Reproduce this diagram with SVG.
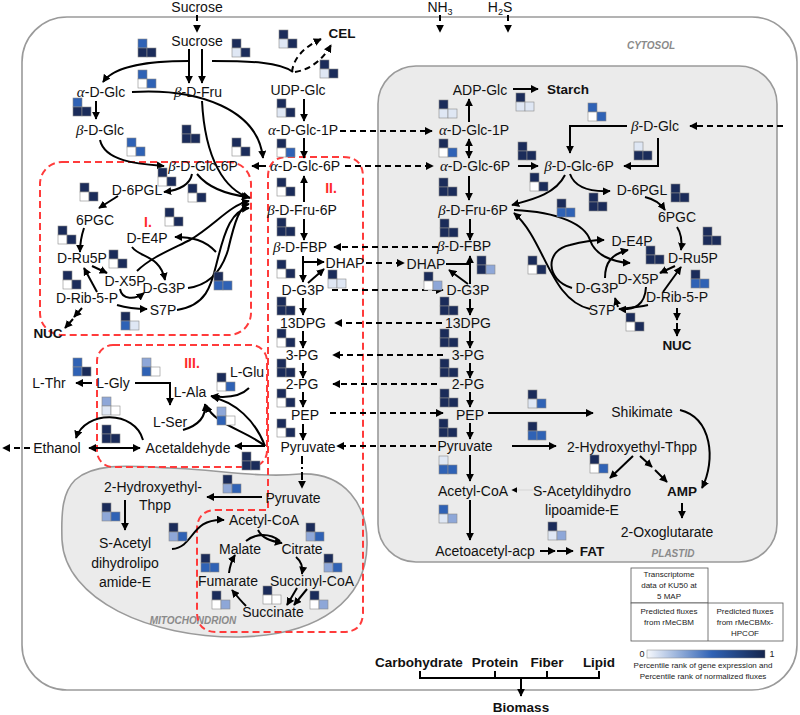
<svg xmlns="http://www.w3.org/2000/svg" width="800" height="715" viewBox="0 0 800 715">
<style>
text{font-family:"Liberation Sans",Arial,sans-serif;font-size:14px;fill:#111;text-anchor:middle}
.g{font-family:"Liberation Serif",serif;font-style:italic;font-size:15px}
.b{font-weight:bold;font-size:13.5px}
.lab{font-size:10px;font-style:italic;font-weight:bold;fill:#8a8a8a}
.red{fill:#ff2a2a;font-weight:bold;font-size:14px}
.lg{font-size:8px;fill:#222}
.c path{fill:none;stroke:#000;stroke-width:2}
.ar{marker-end:url(#a)}
.bi{marker-start:url(#a);marker-end:url(#a)}
.dd{stroke-dasharray:6 4}
.dt{stroke-dasharray:8 3 2 3}
.rb{fill:none;stroke:#ff3b3b;stroke-width:2;stroke-dasharray:7 4}
.gl rect{stroke:#8a8a8a;stroke-width:0.6}
.D{fill:#1b2c5a}.M{fill:#2f62b5}.L{fill:#8ea7d8}.P{fill:#dfe7f4}.W{fill:#fff}
</style>
<defs>
<marker id="a" viewBox="0 0 10 10" refX="9" refY="5" markerWidth="4" markerHeight="4" orient="auto-start-reverse"><path d="M0,0 L10,5 L0,10 z" fill="#000"/></marker>
<linearGradient id="grad" x1="0" x2="1" y1="0" y2="0"><stop offset="0" stop-color="#f7f9fd"/><stop offset="0.55" stop-color="#2f62b5"/><stop offset="1" stop-color="#15254d"/></linearGradient>
</defs>
<rect width="800" height="715" fill="#fff"/>
<g id="compartments">
<rect x="22" y="17" width="775" height="673" rx="45" fill="#fff" stroke="#9a9a9a" stroke-width="1.6"/>
<rect x="378" y="66" width="399" height="496" rx="38" fill="#ebebeb" stroke="#9a9a9a" stroke-width="1.6"/>
<path d="M75,480 C95,462 130,466 170,468 C220,470 260,478 300,474 C345,472 368,505 367,545 C366,600 320,635 240,637 C150,638 65,600 62,540 C61,510 63,492 75,480 Z" fill="#ebebeb" stroke="#9a9a9a" stroke-width="1.6"/>
<text class="lab" x="651" y="49">CYTOSOL</text>
<text class="lab" x="673" y="557">PLASTID</text>
<text class="lab" x="193" y="624">MITOCHONDRION</text>
<rect class="rb" x="40" y="162" width="211" height="173" rx="22"/>
<rect class="rb" x="97" y="345" width="170" height="122" rx="16"/>
<path class="rb" d="M288,157 H343 Q363,157 363,177 V612 Q363,632 343,632 H217 Q197,632 197,612 V530 Q197,510 217,510 H268 V177 Q268,157 288,157 Z"/>
<text class="red" x="148" y="227">I.</text>
<text class="red" x="331" y="193">II.</text>
<text class="red" x="192" y="368">III.</text>
</g>
<g id="connectors" class="c">
<path class="ar dd" d="M197,15 V32"/>
<path class="ar dd" d="M440,15 V32"/>
<path class="ar dd" d="M508,15 V32"/>
<path class="ar" d="M189,49 V83"/>
<path class="ar" d="M202,49 V83"/>
<path class="ar" d="M189,61 C150,61 115,65 103,82"/>
<path d="M212,61 C250,61 280,62 293,72"/>
<path class="ar dd" d="M292,72 Q294,52 321,39"/>
<path class="ar dd" d="M295,72 Q318,68 331,45"/>
<path class="ar" d="M96,101 V119"/>
<path class="ar" d="M132,92 C200,88 258,110 263,158"/>
<path class="ar" d="M202,101 C205,160 225,190 250,198"/>
<path class="ar" d="M100,140 C105,162 140,164 164,166"/>
<path class="ar" d="M266,166 H252"/>
<path class="ar" d="M304,99 V121"/>
<path class="ar" d="M304,138 V158"/>
<path class="ar" d="M304,202 V176"/>
<path class="ar dd" d="M340,131 H432"/>
<path class="ar dd" d="M345,166 H433"/>
<path class="ar" d="M304,219 V240"/>
<path class="ar" d="M303,256 V282"/>
<path class="ar" d="M303,262 H324"/>
<path class="ar" d="M308,283 L324,269"/>
<path class="ar dd" d="M438,247 H334"/>
<path class="ar dd" d="M366,263 H404"/>
<path class="ar dd" d="M332,290 H443"/>
<path class="ar" d="M303,298 V315"/>
<path class="ar dd" d="M442,323 H335"/>
<path class="ar" d="M303,331 V348"/>
<path class="ar dd" d="M443,355 H333"/>
<path class="ar" d="M303,363 V378"/>
<path class="ar dd" d="M437,384 H333"/>
<path class="ar" d="M303,392 V407"/>
<path class="ar dd" d="M330,413 H443"/>
<path class="ar" d="M303,424 V440"/>
<path class="ar dd" d="M436,446 H337"/>
<path class="ar dt" d="M302,456 V488"/>
<path class="ar" d="M262,497 H207"/>
<path class="ar" d="M125,500 V530"/>
<path class="ar" d="M172,549 C195,547 190,518 224,520"/>
<path class="ar" d="M258,530 C262,538 270,541 282,543"/>
<path d="M246,541 C256,533 270,533 280,541"/>
<path class="ar" d="M296,557 C302,562 303,568 302,574"/>
<path class="ar" d="M297,588 L287,605"/>
<path class="ar" d="M307,589 L294,605"/>
<path class="ar" d="M246,606 C240,600 236,595 232,590"/>
<path class="ar" d="M229,573 C230,565 232,560 235,555"/>
<path class="ar" d="M192,174 C190,185 180,190 164,192"/>
<path class="ar" d="M197,174 C210,190 230,195 249,197"/>
<path class="ar" d="M118,196 L99,208"/>
<path class="ar" d="M84,228 Q80,240 80,252"/>
<path class="ar" d="M92,266 L107,273"/>
<path class="ar" d="M97,292 L84,268"/>
<path class="ar" d="M82,308 L74,317"/>
<path class="ar" d="M73,319 L65,328"/>
<path class="ar" d="M117,305 C127,308 135,309 147,309"/>
<path class="ar" d="M120,289 C122,300 135,300 144,293"/>
<path class="ar" d="M132,247 C140,258 160,255 165,280"/>
<path class="ar" d="M188,288 C210,285 222,270 228,250 C235,220 240,206 249,204"/>
<path class="ar" d="M177,310 C210,305 212,280 218,258 C225,230 232,210 249,208"/>
<path class="ar" d="M216,252 C205,240 192,237 175,237"/>
<path class="ar" d="M137,271 C150,258 170,250 190,240 C215,225 230,205 249,201"/>
<path class="ar" d="M92,383 H76"/>
<path class="ar" d="M135,383 H170 V405"/>
<path class="ar" d="M183,430 C200,425 206,415 205,404"/>
<path class="ar" d="M249,388 C240,397 225,398 211,396"/>
<path class="ar" d="M265,446 C245,430 215,425 206,405"/>
<path class="ar" d="M265,446 C255,420 235,402 212,397"/>
<path class="ar" d="M265,446 H235"/>
<path class="bi" d="M89,448 H140"/>
<path class="ar" d="M143,440 C135,410 85,410 76,438"/>
<path class="ar dd" d="M30,448 H3"/>
<path class="ar" d="M469,122 V99"/>
<path class="ar" d="M513,89 H538"/>
<path class="bi" d="M469,139 V158"/>
<path class="ar" d="M518,166 H538"/>
<path class="ar dd" d="M783,126 H690"/>
<path class="ar" d="M627,126 H570 V153"/>
<path class="ar" d="M658,138 V166 H624"/>
<path class="ar" d="M469,176 V200"/>
<path class="ar" d="M470,219 V240"/>
<path d="M446,264 H470"/>
<path class="ar" d="M470,284 V256"/>
<path class="ar" d="M468,284 L449,270"/>
<path class="ar" d="M470,299 V315"/>
<path class="ar" d="M470,331 V348"/>
<path class="ar" d="M470,363 V378"/>
<path class="ar" d="M470,392 V407"/>
<path class="ar" d="M470,423 V439"/>
<path class="ar" d="M470,455 V481"/>
<path class="ar" d="M470,500 V540"/>
<path class="ar" d="M540,551 H555"/>
<path class="ar" d="M557,551 H573"/>
<path class="ar" d="M488,413 H593"/>
<path class="ar" d="M512,446 H556"/>
<path class="ar" d="M633,456 L610,478"/>
<path class="ar" d="M640,456 L652,467"/>
<path class="ar" d="M655,470 L667,482"/>
<path class="ar" d="M680,410 C712,418 716,460 702,488"/>
<path class="ar" d="M682,503 V518"/>
<path class="ar" d="M533,490 H512" style="stroke:#dcdcdc;stroke-width:1.5"/>
<path class="ar" d="M570,174 C575,188 590,192 610,191"/>
<path class="ar" d="M565,175 C555,195 530,200 512,205"/>
<path class="ar" d="M645,197 Q658,200 665,210"/>
<path class="ar" d="M677,227 Q683,236 681,250"/>
<path class="ar" d="M675,266 L660,273"/>
<path class="ar" d="M663,292 L681,267"/>
<path class="ar" d="M677,308 V320"/>
<path class="ar" d="M677,323 V336"/>
<path class="ar" d="M514,210 C560,212 585,225 590,240 C595,255 612,262 630,263"/>
<path class="ar" d="M572,288 C545,280 545,250 570,245 C585,241 593,240 604,240"/>
<path class="ar" d="M590,309 C550,300 545,240 514,213"/>
<path class="ar" d="M605,278 C605,262 612,254 628,250"/>
<path class="ar" d="M646,287 C645,305 635,310 619,309"/>
<path d="M648,305 C635,308 625,308 619,309"/>
<path class="ar" d="M618,307 L615,298"/>
<path d="M420,671 V678 H599 V671 M495,671 V678 M547,671 V678"/>
<path class="ar" d="M521,678 V696"/>
</g>
<g id="nodes">
<g id="n-sucrose-ext"><text x="197" y="12">Sucrose</text></g>
<g id="n-nh3"><text x="440" y="12">NH<tspan font-size="9" dy="3">3</tspan></text></g>
<g id="n-h2s"><text x="500" y="12">H<tspan font-size="9" dy="3">2</tspan><tspan dy="-3">S</tspan></text></g>
<g id="n-sucrose"><text x="197" y="46">Sucrose</text></g>
<g id="n-aglc"><text x="101" y="97"><tspan class="g">α</tspan>-D-Glc</text></g>
<g id="n-bfru"><text x="198" y="97"><tspan class="g">β</tspan>-D-Fru</text></g>
<g id="n-bglc"><text x="100" y="135"><tspan class="g">β</tspan>-D-Glc</text></g>
<g id="n-udpglc"><text x="298" y="95">UDP-Glc</text></g>
<g id="n-cel"><text class="b" x="342" y="38">CEL</text></g>
<g id="n-aglc1p"><text x="303" y="135"><tspan class="g">α</tspan>-D-Glc-1P</text></g>
<g id="n-aglc6p"><text x="305" y="171"><tspan class="g">α</tspan>-D-Glc-6P</text></g>
<g id="n-bglc6p"><text x="203" y="171"><tspan class="g">β</tspan>-D-Glc-6P</text></g>
<g id="n-bfru6p"><text x="302" y="215"><tspan class="g">β</tspan>-D-Fru-6P</text></g>
<g id="n-bfbp"><text x="300" y="252"><tspan class="g">β</tspan>-D-FBP</text></g>
<g id="n-dhap"><text x="345" y="268">DHAP</text></g>
<g id="n-g3p"><text x="303" y="295">D-G3P</text></g>
<g id="n-13dpg"><text x="303" y="328">13DPG</text></g>
<g id="n-3pg"><text x="302" y="360">3-PG</text></g>
<g id="n-2pg"><text x="302" y="389">2-PG</text></g>
<g id="n-pep"><text x="305" y="420">PEP</text></g>
<g id="n-pyr"><text x="308" y="452">Pyruvate</text></g>
<g id="n-pyr-m"><text x="293" y="503">Pyruvate</text></g>
<g id="n-hthpp-m"><text x="153" y="492">2-Hydroxyethyl-</text><text x="155" y="510">Thpp</text></g>
<g id="n-sacetyl-m"><text x="125" y="548">S-Acetyl</text><text x="125" y="568">dihydrolipo</text><text x="125" y="587">amide-E</text></g>
<g id="n-accoa-m"><text x="264" y="525">Acetyl-CoA</text></g>
<g id="n-malate"><text x="240" y="554">Malate</text></g>
<g id="n-citrate"><text x="302" y="554">Citrate</text></g>
<g id="n-succoa"><text x="312" y="586">Succinyl-CoA</text></g>
<g id="n-succinate"><text x="273" y="617">Succinate</text></g>
<g id="n-fumarate"><text x="228" y="586">Fumarate</text></g>
<g id="n-6pgl"><text x="137" y="195">D-6PGL</text></g>
<g id="n-6pgc"><text x="95" y="225">6PGC</text></g>
<g id="n-ru5p"><text x="82" y="263">D-Ru5P</text></g>
<g id="n-x5p"><text x="125" y="286">D-X5P</text></g>
<g id="n-rib5p"><text x="87" y="303">D-Rib-5-P</text></g>
<g id="n-g3p-i"><text x="164" y="293">D-G3P</text></g>
<g id="n-s7p"><text x="163" y="315">S7P</text></g>
<g id="n-e4p"><text x="147" y="243">D-E4P</text></g>
<g id="n-nuc"><text class="b" x="48" y="338">NUC</text></g>
<g id="n-lthr"><text x="49" y="388">L-Thr</text></g>
<g id="n-lgly"><text x="113" y="388">L-Gly</text></g>
<g id="n-lglu"><text x="247" y="377">L-Glu</text></g>
<g id="n-lala"><text x="190" y="397">L-Ala</text></g>
<g id="n-lser"><text x="170" y="427">L-Ser</text></g>
<g id="n-acetald"><text x="188" y="453">Acetaldehyde</text></g>
<g id="n-ethanol"><text x="57" y="453">Ethanol</text></g>
<g id="p-adpglc"><text x="480" y="95">ADP-Glc</text></g>
<g id="p-starch"><text class="b" x="568" y="94">Starch</text></g>
<g id="p-aglc1p"><text x="474" y="135"><tspan class="g">α</tspan>-D-Glc-1P</text></g>
<g id="p-aglc6p"><text x="475" y="171"><tspan class="g">α</tspan>-D-Glc-6P</text></g>
<g id="p-bglc6p"><text x="579" y="171"><tspan class="g">β</tspan>-D-Glc-6P</text></g>
<g id="p-bglc"><text x="655" y="131"><tspan class="g">β</tspan>-D-Glc</text></g>
<g id="p-bfru6p"><text x="473" y="215"><tspan class="g">β</tspan>-D-Fru-6P</text></g>
<g id="p-bfbp"><text x="464" y="251"><tspan class="g">β</tspan>-D-FBP</text></g>
<g id="p-dhap"><text x="426" y="269">DHAP</text></g>
<g id="p-g3p"><text x="468" y="295">D-G3P</text></g>
<g id="p-13dpg"><text x="468" y="328">13DPG</text></g>
<g id="p-3pg"><text x="468" y="360">3-PG</text></g>
<g id="p-2pg"><text x="468" y="389">2-PG</text></g>
<g id="p-pep"><text x="470" y="420">PEP</text></g>
<g id="p-pyr"><text x="465" y="451">Pyruvate</text></g>
<g id="p-accoa"><text x="473" y="496">Acetyl-CoA</text></g>
<g id="p-acac"><text x="485" y="556">Acetoacetyl-acp</text></g>
<g id="p-fat"><text class="b" x="592" y="556">FAT</text></g>
<g id="p-shik"><text x="642" y="417">Shikimate</text></g>
<g id="p-hthpp"><text x="632" y="452">2-Hydroxyethyl-Thpp</text></g>
<g id="p-sacetyl"><text x="582" y="496">S-Acetyldihydro</text><text x="582" y="515">lipoamide-E</text></g>
<g id="p-amp"><text class="b" x="682" y="496">AMP</text></g>
<g id="p-2og"><text x="667" y="537">2-Oxoglutarate</text></g>
<g id="p-6pgl"><text x="642" y="195">D-6PGL</text></g>
<g id="p-6pgc"><text x="677" y="222">6PGC</text></g>
<g id="p-ru5p"><text x="693" y="263">D-Ru5P</text></g>
<g id="p-e4p"><text x="632" y="246">D-E4P</text></g>
<g id="p-x5p"><text x="638" y="284">D-X5P</text></g>
<g id="p-g3p2"><text x="597" y="293">D-G3P</text></g>
<g id="p-rib5p"><text x="677" y="302">D-Rib-5-P</text></g>
<g id="p-s7p"><text x="602" y="315">S7P</text></g>
<g id="p-nuc"><text class="b" x="677" y="350">NUC</text></g>
<g id="b-carb"><text class="b" x="419" y="667">Carbohydrate</text></g>
<g id="b-prot"><text class="b" x="495" y="667">Protein</text></g>
<g id="b-fiber"><text class="b" x="547" y="667">Fiber</text></g>
<g id="b-lipid"><text class="b" x="599" y="667">Lipid</text></g>
<g id="b-biomass"><text class="b" x="521" y="712">Biomass</text></g>
</g>
<g id="legend">
<rect x="631" y="568" width="77" height="35" fill="#fff" stroke="#555" stroke-width="0.8"/>
<rect x="631" y="603" width="152" height="38" fill="#fff" stroke="#555" stroke-width="0.8"/>
<path d="M708,603 V641" stroke="#555" stroke-width="0.8"/>
<text class="lg" x="669" y="577">Transcriptome</text>
<text class="lg" x="669" y="588">data of KU50 at</text>
<text class="lg" x="669" y="599">5 MAP</text>
<text class="lg" x="669" y="614">Predicted fluxes</text>
<text class="lg" x="669" y="625">from rMeCBM</text>
<text class="lg" x="745" y="614">Predicted fluxes</text>
<text class="lg" x="745" y="625">from rMeCBMx-</text>
<text class="lg" x="745" y="636">HPCOF</text>
<text class="lg" x="642" y="657" style="font-size:9px">0</text>
<rect x="647" y="650" width="118" height="8" fill="url(#grad)" stroke="#888" stroke-width="0.5"/>
<text class="lg" x="772" y="657" style="font-size:9px">1</text>
<text class="lg" x="703" y="668">Percentile rank of gene expression and</text>
<text class="lg" x="703" y="679">Percentile rank of normalized fluxes</text>
</g>
<g id="glyphs" class="gl">
<g transform="translate(138,39)"><rect class="M" width="9" height="9"/><rect class="D" y="9" width="9" height="9"/><rect class="D" x="9" y="9" width="9" height="9"/></g>
<g transform="translate(232,39)"><rect class="D" width="9" height="9"/><rect class="P" y="9" width="9" height="9"/><rect class="D" x="9" y="9" width="9" height="9"/></g>
<g transform="translate(138,70)"><rect class="M" width="9" height="9"/><rect class="W" y="9" width="9" height="9"/><rect class="M" x="9" y="9" width="9" height="9"/></g>
<g transform="translate(73,98)"><rect class="M" width="9" height="9"/><rect class="D" y="9" width="9" height="9"/><rect class="D" x="9" y="9" width="9" height="9"/></g>
<g transform="translate(182,125)"><rect class="D" width="9" height="9"/><rect class="D" y="9" width="9" height="9"/><rect class="D" x="9" y="9" width="9" height="9"/></g>
<g transform="translate(127,138)"><rect class="M" width="9" height="9"/><rect class="W" y="9" width="9" height="9"/><rect class="M" x="9" y="9" width="9" height="9"/></g>
<g transform="translate(232,138)"><rect class="D" width="9" height="9"/><rect class="W" y="9" width="9" height="9"/><rect class="D" x="9" y="9" width="9" height="9"/></g>
<g transform="translate(279,30)"><rect class="D" width="9" height="9"/><rect class="P" y="9" width="9" height="9"/><rect class="D" x="9" y="9" width="9" height="9"/></g>
<g transform="translate(320,60)"><rect class="D" width="9" height="9"/><rect class="P" y="9" width="9" height="9"/><rect class="D" x="9" y="9" width="9" height="9"/></g>
<g transform="translate(277,99)"><rect class="D" width="9" height="9"/><rect class="P" y="9" width="9" height="9"/><rect class="D" x="9" y="9" width="9" height="9"/></g>
<g transform="translate(277,139)"><rect class="D" width="9" height="9"/><rect class="W" y="9" width="9" height="9"/><rect class="M" x="9" y="9" width="9" height="9"/></g>
<g transform="translate(277,178)"><rect class="D" width="9" height="9"/><rect class="W" y="9" width="9" height="9"/><rect class="D" x="9" y="9" width="9" height="9"/></g>
<g transform="translate(277,218)"><rect class="D" width="9" height="9"/><rect class="D" y="9" width="9" height="9"/><rect class="D" x="9" y="9" width="9" height="9"/></g>
<g transform="translate(277,260)"><rect class="D" width="9" height="9"/><rect class="W" y="9" width="9" height="9"/><rect class="D" x="9" y="9" width="9" height="9"/></g>
<g transform="translate(328,270)"><rect class="D" width="9" height="9"/><rect class="P" y="9" width="9" height="9"/><rect class="P" x="9" y="9" width="9" height="9"/></g>
<g transform="translate(277,297)"><rect class="D" width="9" height="9"/><rect class="D" y="9" width="9" height="9"/><rect class="D" x="9" y="9" width="9" height="9"/></g>
<g transform="translate(277,329)"><rect class="D" width="9" height="9"/><rect class="W" y="9" width="9" height="9"/><rect class="D" x="9" y="9" width="9" height="9"/></g>
<g transform="translate(277,359)"><rect class="D" width="9" height="9"/><rect class="D" y="9" width="9" height="9"/><rect class="D" x="9" y="9" width="9" height="9"/></g>
<g transform="translate(277,389)"><rect class="D" width="9" height="9"/><rect class="W" y="9" width="9" height="9"/><rect class="D" x="9" y="9" width="9" height="9"/></g>
<g transform="translate(277,419)"><rect class="D" width="9" height="9"/><rect class="W" y="9" width="9" height="9"/><rect class="D" x="9" y="9" width="9" height="9"/></g>
<g transform="translate(223,475)"><rect class="D" width="9" height="9"/><rect class="L" y="9" width="9" height="9"/><rect class="M" x="9" y="9" width="9" height="9"/></g>
<g transform="translate(102,503)"><rect class="D" width="9" height="9"/><rect class="L" y="9" width="9" height="9"/><rect class="M" x="9" y="9" width="9" height="9"/></g>
<g transform="translate(169,523)"><rect class="D" width="9" height="9"/><rect class="L" y="9" width="9" height="9"/><rect class="M" x="9" y="9" width="9" height="9"/></g>
<g transform="translate(306,523)"><rect class="D" width="9" height="9"/><rect class="L" y="9" width="9" height="9"/><rect class="M" x="9" y="9" width="9" height="9"/></g>
<g transform="translate(201,554)"><rect class="D" width="9" height="9"/><rect class="M" y="9" width="9" height="9"/><rect class="M" x="9" y="9" width="9" height="9"/></g>
<g transform="translate(324,554)"><rect class="D" width="9" height="9"/><rect class="L" y="9" width="9" height="9"/><rect class="M" x="9" y="9" width="9" height="9"/></g>
<g transform="translate(263,586)"><rect class="D" width="9" height="9"/><rect class="W" y="9" width="9" height="9"/><rect class="W" x="9" y="9" width="9" height="9"/></g>
<g transform="translate(310,591)"><rect class="D" width="9" height="9"/><rect class="W" y="9" width="9" height="9"/><rect class="L" x="9" y="9" width="9" height="9"/></g>
<g transform="translate(212,591)"><rect class="D" width="9" height="9"/><rect class="W" y="9" width="9" height="9"/><rect class="L" x="9" y="9" width="9" height="9"/></g>
<g transform="translate(158,168)"><rect class="D" width="9" height="9"/><rect class="W" y="9" width="9" height="9"/><rect class="D" x="9" y="9" width="9" height="9"/></g>
<g transform="translate(80,183)"><rect class="D" width="9" height="9"/><rect class="W" y="9" width="9" height="9"/><rect class="D" x="9" y="9" width="9" height="9"/></g>
<g transform="translate(188,184)"><rect class="D" width="9" height="9"/><rect class="W" y="9" width="9" height="9"/><rect class="D" x="9" y="9" width="9" height="9"/></g>
<g transform="translate(58,226)"><rect class="D" width="9" height="9"/><rect class="W" y="9" width="9" height="9"/><rect class="D" x="9" y="9" width="9" height="9"/></g>
<g transform="translate(165,208)"><rect class="D" width="9" height="9"/><rect class="W" y="9" width="9" height="9"/><rect class="D" x="9" y="9" width="9" height="9"/></g>
<g transform="translate(109,250)"><rect class="D" width="9" height="9"/><rect class="W" y="9" width="9" height="9"/><rect class="D" x="9" y="9" width="9" height="9"/></g>
<g transform="translate(63,271)"><rect class="D" width="9" height="9"/><rect class="W" y="9" width="9" height="9"/><rect class="D" x="9" y="9" width="9" height="9"/></g>
<g transform="translate(214,272)"><rect class="D" width="9" height="9"/><rect class="M" y="9" width="9" height="9"/><rect class="M" x="9" y="9" width="9" height="9"/></g>
<g transform="translate(121,312)"><rect class="D" width="9" height="9"/><rect class="M" y="9" width="9" height="9"/><rect class="P" x="9" y="9" width="9" height="9"/></g>
<g transform="translate(73,358)"><rect class="M" width="9" height="9"/><rect class="M" y="9" width="9" height="9"/><rect class="D" x="9" y="9" width="9" height="9"/></g>
<g transform="translate(142,358)"><rect class="L" width="9" height="9"/><rect class="M" y="9" width="9" height="9"/><rect class="W" x="9" y="9" width="9" height="9"/></g>
<g transform="translate(217,373)"><rect class="D" width="9" height="9"/><rect class="W" y="9" width="9" height="9"/><rect class="M" x="9" y="9" width="9" height="9"/></g>
<g transform="translate(102,397)"><rect class="L" width="9" height="9"/><rect class="P" y="9" width="9" height="9"/><rect class="W" x="9" y="9" width="9" height="9"/></g>
<g transform="translate(217,407)"><rect class="L" width="9" height="9"/><rect class="M" y="9" width="9" height="9"/><rect class="W" x="9" y="9" width="9" height="9"/></g>
<g transform="translate(102,425)"><rect class="D" width="9" height="9"/><rect class="D" y="9" width="9" height="9"/><rect class="D" x="9" y="9" width="9" height="9"/></g>
<g transform="translate(242,452)"><rect class="D" width="9" height="9"/><rect class="D" y="9" width="9" height="9"/><rect class="D" x="9" y="9" width="9" height="9"/></g>
<g transform="translate(439,100)"><rect class="D" width="9" height="9"/><rect class="P" y="9" width="9" height="9"/><rect class="P" x="9" y="9" width="9" height="9"/></g>
<g transform="translate(516,93)"><rect class="D" width="9" height="9"/><rect class="P" y="9" width="9" height="9"/><rect class="P" x="9" y="9" width="9" height="9"/></g>
<g transform="translate(439,139)"><rect class="D" width="9" height="9"/><rect class="W" y="9" width="9" height="9"/><rect class="M" x="9" y="9" width="9" height="9"/></g>
<g transform="translate(439,178)"><rect class="D" width="9" height="9"/><rect class="D" y="9" width="9" height="9"/><rect class="D" x="9" y="9" width="9" height="9"/></g>
<g transform="translate(588,103)"><rect class="M" width="9" height="9"/><rect class="W" y="9" width="9" height="9"/><rect class="M" x="9" y="9" width="9" height="9"/></g>
<g transform="translate(634,142)"><rect class="P" width="9" height="9"/><rect class="D" y="9" width="9" height="9"/><rect class="D" x="9" y="9" width="9" height="9"/></g>
<g transform="translate(518,142)"><rect class="D" width="9" height="9"/><rect class="D" y="9" width="9" height="9"/><rect class="D" x="9" y="9" width="9" height="9"/></g>
<g transform="translate(440,219)"><rect class="D" width="9" height="9"/><rect class="D" y="9" width="9" height="9"/><rect class="D" x="9" y="9" width="9" height="9"/></g>
<g transform="translate(424,272)"><rect class="D" width="9" height="9"/><rect class="W" y="9" width="9" height="9"/><rect class="L" x="9" y="9" width="9" height="9"/></g>
<g transform="translate(477,256)"><rect class="D" width="9" height="9"/><rect class="D" y="9" width="9" height="9"/><rect class="L" x="9" y="9" width="9" height="9"/></g>
<g transform="translate(440,297)"><rect class="D" width="9" height="9"/><rect class="D" y="9" width="9" height="9"/><rect class="D" x="9" y="9" width="9" height="9"/></g>
<g transform="translate(440,329)"><rect class="D" width="9" height="9"/><rect class="D" y="9" width="9" height="9"/><rect class="D" x="9" y="9" width="9" height="9"/></g>
<g transform="translate(440,359)"><rect class="D" width="9" height="9"/><rect class="D" y="9" width="9" height="9"/><rect class="D" x="9" y="9" width="9" height="9"/></g>
<g transform="translate(440,389)"><rect class="D" width="9" height="9"/><rect class="D" y="9" width="9" height="9"/><rect class="D" x="9" y="9" width="9" height="9"/></g>
<g transform="translate(439,419)"><rect class="D" width="9" height="9"/><rect class="D" y="9" width="9" height="9"/><rect class="D" x="9" y="9" width="9" height="9"/></g>
<g transform="translate(439,456)"><rect class="P" width="9" height="9"/><rect class="M" y="9" width="9" height="9"/><rect class="M" x="9" y="9" width="9" height="9"/></g>
<g transform="translate(439,505)"><rect class="M" width="9" height="9"/><rect class="P" y="9" width="9" height="9"/><rect class="L" x="9" y="9" width="9" height="9"/></g>
<g transform="translate(548,522)"><rect class="D" width="9" height="9"/><rect class="P" y="9" width="9" height="9"/><rect class="L" x="9" y="9" width="9" height="9"/></g>
<g transform="translate(528,390)"><rect class="D" width="9" height="9"/><rect class="P" y="9" width="9" height="9"/><rect class="M" x="9" y="9" width="9" height="9"/></g>
<g transform="translate(528,422)"><rect class="D" width="9" height="9"/><rect class="M" y="9" width="9" height="9"/><rect class="M" x="9" y="9" width="9" height="9"/></g>
<g transform="translate(590,455)"><rect class="D" width="9" height="9"/><rect class="W" y="9" width="9" height="9"/><rect class="M" x="9" y="9" width="9" height="9"/></g>
<g transform="translate(671,184)"><rect class="D" width="9" height="9"/><rect class="D" y="9" width="9" height="9"/><rect class="D" x="9" y="9" width="9" height="9"/></g>
<g transform="translate(530,173)"><rect class="D" width="9" height="9"/><rect class="W" y="9" width="9" height="9"/><rect class="D" x="9" y="9" width="9" height="9"/></g>
<g transform="translate(589,193)"><rect class="D" width="9" height="9"/><rect class="D" y="9" width="9" height="9"/><rect class="D" x="9" y="9" width="9" height="9"/></g>
<g transform="translate(557,199)"><rect class="D" width="9" height="9"/><rect class="M" y="9" width="9" height="9"/><rect class="M" x="9" y="9" width="9" height="9"/></g>
<g transform="translate(703,227)"><rect class="D" width="9" height="9"/><rect class="D" y="9" width="9" height="9"/><rect class="D" x="9" y="9" width="9" height="9"/></g>
<g transform="translate(646,246)"><rect class="D" width="9" height="9"/><rect class="D" y="9" width="9" height="9"/><rect class="D" x="9" y="9" width="9" height="9"/></g>
<g transform="translate(691,270)"><rect class="D" width="9" height="9"/><rect class="M" y="9" width="9" height="9"/><rect class="M" x="9" y="9" width="9" height="9"/></g>
<g transform="translate(626,313)"><rect class="D" width="9" height="9"/><rect class="W" y="9" width="9" height="9"/><rect class="D" x="9" y="9" width="9" height="9"/></g>
<g transform="translate(528,256)"><rect class="D" width="9" height="9"/><rect class="W" y="9" width="9" height="9"/><rect class="D" x="9" y="9" width="9" height="9"/></g>
</g>
</svg>
